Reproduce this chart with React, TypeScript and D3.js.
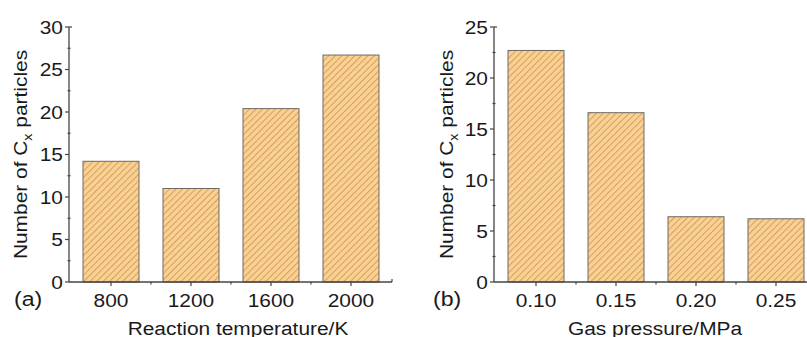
import React from "react";
import * as d3 from "d3";

const temperatures = ["800", "1200", "1600", "2000"];
const countsByTemperature = [14.2, 11.0, 20.4, 26.7];
const pressures = ["0.10", "0.15", "0.20", "0.25"];
const countsByPressure = [22.7, 16.6, 6.4, 6.2];
const ticksA = [0, 5, 10, 15, 20, 25, 30];
const ticksB = [0, 5, 10, 15, 20, 25];

const FONT = "Liberation Sans, Arial, sans-serif";
const TEXT = "#1a1a1a";
const AXIS = "#444";
const WIDE = 1.1;

type LabelProps = {
  x: number;
  y: number;
  rotate?: number;
  anchor?: "start" | "middle" | "end";
  size?: number;
  children: React.ReactNode;
};

// Text drawn slightly wider than the stock face.
function Label({ x, y, rotate = 0, anchor = "start", size = 19, children }: LabelProps) {
  return (
    <g transform={`translate(${x},${y}) rotate(${rotate}) scale(${WIDE},1)`}>
      <text x={0} y={0} textAnchor={anchor} fontSize={size} fontFamily={FONT} fill={TEXT}>
        {children}
      </text>
    </g>
  );
}

type PanelProps = {
  letter: string;
  categories: string[];
  values: number[];
  yMax: number;
  ticks: number[];
  xLeft: number;
  xRight: number;
  axisEnd: number;
  xTitle: string;
  xTitleCenter: number;
  yTitleX: number;
  letterX: number;
};

function Panel(p: PanelProps) {
  const y0 = 282;
  const yTop = 27;
  const y = d3.scaleLinear().domain([0, p.yMax]).range([y0, yTop]);
  const x = d3.scaleBand().domain(p.categories).range([p.xLeft, p.xRight]).paddingInner(0.3).paddingOuter(0.15);
  const step = x.step();
  const minorY = d3.range(0, p.yMax, 2.5).filter((v) => v % 5 !== 0);
  const bandEdges = p.categories.slice(1).map((c) => (x(c) as number) - (step * 0.3) / 2);
  const axisX = p.xLeft - 2;
  return (
    <g>
      {p.categories.map((c, i) => (
        <rect
          key={c}
          x={x(c)}
          y={y(p.values[i])}
          width={x.bandwidth()}
          height={y0 - y(p.values[i])}
          fill="url(#hatch)"
          stroke="#6e6a66"
          strokeWidth={1}
        />
      ))}
      {/* y axis */}
      <line x1={axisX} x2={axisX} y1={y0} y2={yTop} stroke={AXIS} strokeWidth={1.3} />
      <line x1={axisX} x2={axisX + 3} y1={yTop} y2={yTop} stroke={AXIS} strokeWidth={1.2} />
      {p.ticks.map((t) => (
        <g key={t}>
          <line x1={axisX - 4} x2={axisX} y1={y(t)} y2={y(t)} stroke={AXIS} strokeWidth={1.2} />
          <Label x={axisX - 6} y={y(t) + 6.8} anchor="end">
            {t}
          </Label>
        </g>
      ))}
      {minorY.map((t) => (
        <line key={t} x1={axisX - 1.5} x2={axisX + 1.5} y1={y(t)} y2={y(t)} stroke={AXIS} strokeWidth={1.2} />
      ))}
      {/* x axis */}
      <line x1={axisX} x2={p.axisEnd} y1={y0} y2={y0} stroke={AXIS} strokeWidth={1.3} />
      <line x1={p.axisEnd} x2={p.axisEnd} y1={y0} y2={y0 - 3} stroke={AXIS} strokeWidth={1.2} />
      {p.categories.map((c) => {
        const cx = (x(c) as number) + x.bandwidth() / 2;
        return (
          <g key={c}>
            <line x1={cx} x2={cx} y1={y0} y2={y0 + 4} stroke={AXIS} strokeWidth={1.2} />
            <Label x={cx} y={y0 + 25} anchor="middle">
              {c}
            </Label>
          </g>
        );
      })}
      {bandEdges.map((bx, i) => (
        <line key={i} x1={bx} x2={bx} y1={y0} y2={y0 + 2.5} stroke={AXIS} strokeWidth={1.2} />
      ))}
      <Label x={p.xTitleCenter} y={335} anchor="middle">
        {p.xTitle}
      </Label>
      <Label x={p.letterX} y={306} size={21}>
        {p.letter}
      </Label>
      <Label x={p.yTitleX} y={(y0 + yTop) / 2} rotate={-90} anchor="middle">
        Number of C<tspan fontSize={13} dy={5}>x</tspan>
        <tspan dy={-5}> particles</tspan>
      </Label>
    </g>
  );
}

export default function App() {
  return (
    <svg width={807} height={337} style={{ position: "absolute", left: 0, top: 0, background: "#fff" }}>
      <defs>
        <pattern id="hatch" patternUnits="userSpaceOnUse" width={4.6} height={4.6} patternTransform="rotate(45)">
          <rect width={4.6} height={4.6} fill="#fbd191" />
          <line x1={0} y1={0} x2={0} y2={4.6} stroke="#d1a063" strokeWidth={2} />
        </pattern>
      </defs>
      <rect width={807} height={337} fill="#fff" />
      <Panel
        letter="(a)"
        categories={temperatures}
        values={countsByTemperature}
        yMax={30}
        ticks={ticksA}
        xLeft={71}
        xRight={391}
        axisEnd={392}
        xTitle="Reaction temperature/K"
        xTitleCenter={238}
        yTitleX={27}
        letterX={14}
      />
      <Panel
        letter="(b)"
        categories={pressures}
        values={countsByPressure}
        yMax={25}
        ticks={ticksB}
        xLeft={496}
        xRight={816}
        axisEnd={820}
        xTitle="Gas pressure/MPa"
        xTitleCenter={655}
        yTitleX={453}
        letterX={433}
      />
    </svg>
  );
}
